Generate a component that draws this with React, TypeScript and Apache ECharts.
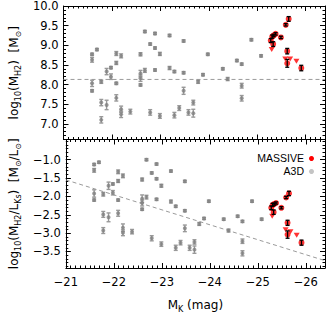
import React, { useEffect, useRef } from "react";
import * as echarts from "echarts";

// ---- axis ranges & ticks ----
const X_MIN = -26.4;
const X_MAX = -21;
const TOP_MIN = 6.6;
const TOP_MAX = 10.0;
const BOT_MIN = -3.95;
const BOT_MAX = -0.45;
const xTicks = [-21, -22, -23, -24, -25, -26];
const topYTicks = [7.0, 7.5, 8.0, 8.5, 9.0, 9.5, 10.0];
const botYTicks = [-1.0, -1.5, -2.0, -2.5, -3.0, -3.5];

// reference lines
const topRefLevel = 8.13;
const botRefLine = [
  [-21, -1.55],
  [-26.4, -3.75],
];

// ---- data: [M_K, value, error] ----
const a3dTop = [
  [-21.59, 8.77, 0.03], [-21.59, 8.63, 0.06], [-21.69, 8.89, 0.03], [-21.59, 8.03, 0.08],
  [-21.59, 7.84, 0.03], [-21.78, 8.07, 0.04], [-21.78, 7.54, 0.08], [-21.78, 7.1, 0.08],
  [-21.89, 8.33, 0.08], [-21.89, 7.48, 0.12], [-21.98, 8.43, 0.03], [-21.98, 8.2, 0.07],
  [-22.09, 8.79, 0.05], [-22.09, 8.55, 0.04], [-22.09, 8.03, 0.03], [-22.09, 7.66, 0.08],
  [-22.19, 8.73, 0.05], [-22.19, 7.37, 0.08], [-22.19, 7.24, 0.08], [-22.38, 7.31, 0.06],
  [-22.59, 8.77, 0.04], [-22.59, 8.28, 0.08], [-22.59, 8.16, 0.08], [-22.59, 7.99, 0.03],
  [-22.68, 9.35, 0.03], [-22.68, 8.36, 0.05], [-22.79, 9.03, 0.03], [-22.79, 7.29, 0.07],
  [-22.89, 9.3, 0.03], [-22.89, 8.93, 0.03], [-22.89, 8.37, 0.03], [-22.99, 8.78, 0.04],
  [-22.99, 7.2, 0.06], [-23.19, 9.25, 0.03], [-23.19, 8.42, 0.04], [-23.29, 8.33, 0.03],
  [-23.29, 7.22, 0.07], [-23.48, 9.11, 0.03], [-23.48, 8.3, 0.03], [-23.48, 7.84, 0.09],
  [-23.39, 7.4, 0.06], [-23.58, 7.29, 0.07], [-23.68, 7.54, 0.06], [-23.68, 7.27, 0.1],
  [-23.78, 8.07, 0.04], [-23.88, 8.25, 0.03], [-23.98, 8.77, 0.03], [-24.29, 8.4, 0.03],
  [-24.39, 8.14, 0.04], [-24.58, 8.61, 0.03], [-24.68, 8.52, 0.03], [-24.68, 7.97, 0.06],
  [-24.68, 7.65, 0.07], [-24.88, 9.14, 0.03], [-25.08, 8.73, 0.03],
];

const a3dBottom = [
  [-21.59, -1.13, 0.03], [-21.59, -1.29, 0.05], [-21.69, -1.07, 0.03], [-21.59, -1.92, 0.1],
  [-21.59, -2.1, 0.03], [-21.78, -1.94, 0.05], [-21.78, -2.49, 0.08], [-21.78, -2.93, 0.08],
  [-21.89, -1.71, 0.1], [-21.89, -2.57, 0.12], [-21.98, -1.66, 0.03], [-21.98, -1.9, 0.06],
  [-22.09, -1.33, 0.05], [-22.09, -1.58, 0.04], [-22.09, -2.1, 0.03], [-22.09, -2.46, 0.08],
  [-22.19, -1.44, 0.05], [-22.19, -2.85, 0.1], [-22.19, -2.99, 0.08], [-22.38, -2.96, 0.06],
  [-22.59, -1.54, 0.04], [-22.59, -2.06, 0.1], [-22.59, -2.18, 0.08], [-22.59, -2.35, 0.03],
  [-22.68, -1.0, 0.03], [-22.68, -2.02, 0.05], [-22.79, -1.36, 0.03], [-22.79, -3.14, 0.07],
  [-22.89, -1.12, 0.03], [-22.89, -1.52, 0.03], [-22.89, -2.08, 0.03], [-22.99, -1.71, 0.04],
  [-22.99, -3.3, 0.06], [-23.19, -1.31, 0.03], [-23.19, -2.14, 0.04], [-23.29, -2.27, 0.03],
  [-23.29, -3.4, 0.07], [-23.48, -1.59, 0.03], [-23.48, -2.39, 0.03], [-23.48, -2.87, 0.09],
  [-23.39, -3.26, 0.06], [-23.58, -3.4, 0.07], [-23.68, -3.24, 0.06], [-23.68, -3.45, 0.1],
  [-23.78, -2.75, 0.04], [-23.88, -2.6, 0.03], [-23.98, -2.13, 0.03], [-24.29, -2.62, 0.03],
  [-24.39, -2.93, 0.04], [-24.58, -2.54, 0.03], [-24.68, -2.68, 0.03], [-24.68, -3.22, 0.06],
  [-24.68, -3.55, 0.07], [-24.88, -2.13, 0.03], [-25.08, -2.62, 0.03],
];

const massiveTop = [
  [-25.28, 9.12, 0.05], [-25.31, 9.22, 0.04], [-25.34, 9.25, 0.03], [-25.33, 9.03, 0.06],
  [-25.38, 9.29, 0.03], [-25.49, 9.2, 0.03], [-25.59, 9.52, 0.03], [-25.65, 9.67, 0.06],
  [-25.62, 8.85, 0.07], [-25.62, 8.54, 0.1], [-25.91, 8.42, 0.07],
];
const massiveTopLimits = [
  [-25.3, 8.89], [-25.58, 8.65], [-25.68, 8.65], [-25.81, 8.59],
];

const massiveBottom = [
  [-25.28, -2.31, 0.05], [-25.31, -2.23, 0.04], [-25.34, -2.21, 0.03], [-25.33, -2.43, 0.06],
  [-25.38, -2.18, 0.03], [-25.49, -2.31, 0.03], [-25.59, -2.03, 0.03], [-25.65, -1.92, 0.06],
  [-25.62, -2.72, 0.07], [-25.62, -3.04, 0.1], [-25.91, -3.26, 0.07],
];
const massiveBottomLimits = [
  [-25.3, -2.54], [-25.58, -2.91], [-25.68, -2.96], [-25.81, -3.06],
];

const legendItems = [
  { name: "MASSIVE", color: "#ff0000" },
  { name: "A3D", color: "#c4c4c4" },
];

// ---- helpers ----
const FONT = "DejaVu Sans";
const MINUS = "\u2212";

function steps(a: number, b: number, s: number) {
  const out: number[] = [];
  const n = Math.round((b - a) / s);
  for (let i = 0; i <= n; i++) out.push(+(a + i * s).toFixed(4));
  return out;
}

const fmtX = (v: number) => (v < 0 ? MINUS : "") + Math.abs(v).toFixed(0);
const fmtY = (v: number) => (v < 0 ? MINUS : "") + Math.abs(v).toFixed(1);

function errRender(color: string, lw: number) {
  return (params: any, api: any) => {
    const x = api.value(0);
    const y = api.value(1);
    const e = api.value(2);
    const p1 = api.coord([x, y - e]);
    const p2 = api.coord([x, y + e]);
    const w = 2;
    const st = { stroke: color, lineWidth: lw };
    return {
      type: "group",
      children: [
        { type: "line", shape: { x1: p1[0], y1: p1[1], x2: p2[0], y2: p2[1] }, style: st },
        { type: "line", shape: { x1: p1[0] - w, y1: p1[1], x2: p1[0] + w, y2: p1[1] }, style: st },
        { type: "line", shape: { x1: p2[0] - w, y1: p2[1], x2: p2[0] + w, y2: p2[1] }, style: st },
      ],
    };
  };
}

const richSub = {
  n: { fontSize: 12, fontFamily: FONT, lineHeight: 16, color: "#000" },
  s: { fontSize: 8, fontFamily: FONT, lineHeight: 8, verticalAlign: "bottom", color: "#000" },
};

export default function App() {
  const ref = useRef<HTMLDivElement>(null);

  useEffect(() => {
    if (!ref.current) return;
    const chart = echarts.init(ref.current, undefined, { renderer: "svg" });

    const grids = [
      { left: 51, right: 4, top: 1.5, height: 138 },
      { left: 51, right: 4, top: 139.5, height: 140 },
    ];

    const xMinor = steps(X_MIN, X_MAX, 0.1);
    const yMinorTop = steps(TOP_MIN, TOP_MAX, 0.1);
    const yMinorBot = steps(-3.9, -0.5, 0.1);

    const xAxes: any[] = [];
    const yAxes: any[] = [];

    const baseAxis = {
      type: "value",
      splitLine: { show: false },
      axisLine: { show: false, lineStyle: { color: "#000", width: 1 } },
      axisLabel: { show: false },
    };

    [0, 1].forEach((g) => {
      const yMin = g === 0 ? TOP_MIN : BOT_MIN;
      const yMax = g === 0 ? TOP_MAX : BOT_MAX;
      const yMaj = g === 0 ? topYTicks : botYTicks;
      const yMin2 = g === 0 ? yMinorTop : yMinorBot;
      ["bottom", "top"].forEach((pos) => {
        const showLabel = pos === "bottom" && g === 1;
        xAxes.push({
          ...baseAxis,
          gridIndex: g,
          position: pos,
          min: X_MIN,
          max: X_MAX,
          inverse: true,
          axisLine: { show: true, onZero: false, lineStyle: { color: "#000", width: 1 } },
          axisTick: { show: true, inside: true, length: 5, customValues: xTicks, lineStyle: { color: "#000" } },
          axisLabel: showLabel
            ? {
                show: true,
                customValues: xTicks,
                formatter: fmtX,
                fontFamily: FONT,
                fontSize: 11.5,
                color: "#000",
                margin: 8,
              }
            : { show: false },
          name: showLabel ? "{n|M}{s|K}{n| (mag)}" : "",
          nameLocation: "middle",
          nameGap: 29,
          nameTextStyle: { rich: richSub },
        });
        xAxes.push({
          ...baseAxis,
          gridIndex: g,
          position: pos,
          min: X_MIN,
          max: X_MAX,
          inverse: true,
          axisLine: { show: false, onZero: false },
          axisTick: { show: true, inside: true, length: 2.5, customValues: xMinor, lineStyle: { color: "#000" } },
        });
      });
      ["left", "right"].forEach((pos) => {
        const showLabel = pos === "left";
        const nm =
          g === 0
            ? "{n|log}{s|10}{n|(M}{s|H2}{n|)  [M}{s|⊙}{n|]}"
            : "{n|log}{s|10}{n|(M}{s|H2}{n|/L}{s|Ks}{n|)  [M}{s|⊙}{n|/L}{s|⊙}{n|]}";
        yAxes.push({
          ...baseAxis,
          gridIndex: g,
          position: pos,
          min: yMin,
          max: yMax,
          axisLine: { show: true, onZero: false, lineStyle: { color: "#000", width: 1 } },
          axisTick: { show: true, inside: true, length: 5, customValues: yMaj, lineStyle: { color: "#000" } },
          axisLabel: showLabel
            ? {
                show: true,
                customValues: yMaj,
                formatter: fmtY,
                fontFamily: FONT,
                fontSize: 11.5,
                color: "#000",
                margin: 5,
              }
            : { show: false },
          name: showLabel ? nm : "",
          nameLocation: "middle",
          nameGap: 40,
          nameTextStyle: { rich: richSub },
        });
        yAxes.push({
          ...baseAxis,
          gridIndex: g,
          position: pos,
          min: yMin,
          max: yMax,
          axisLine: { show: false, onZero: false },
          axisTick: { show: true, inside: true, length: 2.5, customValues: yMin2, lineStyle: { color: "#000" } },
        });
      });
    });

    const series: any[] = [];
    const panels = [
      { g: 0, a3d: a3dTop, mas: massiveTop, lim: massiveTopLimits },
      { g: 1, a3d: a3dBottom, mas: massiveBottom, lim: massiveBottomLimits },
    ];
    panels.forEach(({ g, a3d, mas, lim }) => {
      const xi = g * 4;
      const yi = g * 4;
      series.push({
        type: "line",
        xAxisIndex: xi,
        yAxisIndex: yi,
        data:
          g === 0
            ? [
                [X_MAX, topRefLevel],
                [X_MIN, topRefLevel],
              ]
            : botRefLine,
        symbol: "none",
        silent: true,
        lineStyle: { color: "#9a9a9a", width: 1, type: [4, 3] },
        z: 1,
      });
      series.push({
        type: "custom",
        xAxisIndex: xi,
        yAxisIndex: yi,
        data: a3d,
        encode: { x: 0, y: 1 },
        renderItem: errRender("#999999", 1.4),
        silent: true,
        z: 2,
      });
      series.push({
        type: "scatter",
        name: "A3D",
        xAxisIndex: xi,
        yAxisIndex: yi,
        data: a3d.map((d) => [d[0], d[1]]),
        symbol: "circle",
        symbolSize: 4,
        itemStyle: { color: "#808080" },
        silent: true,
        z: 3,
      });
      series.push({
        type: "scatter",
        name: "MASSIVE limits",
        xAxisIndex: xi,
        yAxisIndex: yi,
        data: lim,
        symbol: "triangle",
        symbolRotate: 180,
        symbolSize: [6, 5],
        itemStyle: { color: "#ff0000" },
        silent: true,
        z: 4,
      });
      series.push({
        type: "scatter",
        name: "MASSIVE",
        xAxisIndex: xi,
        yAxisIndex: yi,
        data: mas.map((d) => [d[0], d[1]]),
        symbol: "circle",
        symbolSize: 6,
        itemStyle: { color: "#ff0000" },
        silent: true,
        z: 5,
      });
      series.push({
        type: "custom",
        xAxisIndex: xi,
        yAxisIndex: yi,
        data: mas,
        encode: { x: 0, y: 1 },
        renderItem: errRender("#000000", 1.3),
        silent: true,
        z: 6,
      });
    });

    const graphic: any[] = [];
    legendItems.forEach((it, i) => {
      const cy = 158 + i * 13;
      graphic.push({
        type: "text",
        x: 304,
        y: cy,
        style: {
          text: it.name,
          fontFamily: "'Liberation Sans Narrow', 'Liberation Sans', sans-serif",
          fontSize: 10.5,
          fill: "#000",
          align: "right",
          verticalAlign: "middle",
        },
      });
      graphic.push({
        type: "circle",
        shape: { cx: 311.5, cy: cy + 0.5, r: 2.5 },
        style: { fill: it.color },
      });
    });

    chart.setOption({
      animation: false,
      backgroundColor: "#fff",
      grid: grids,
      xAxis: xAxes,
      yAxis: yAxes,
      series,
      graphic,
    });

    return () => chart.dispose();
  }, []);

  return (
    <div
      ref={ref}
      style={{ position: "fixed", left: 0, top: 0, width: 329, height: 314, background: "#fff" }}
    />
  );
}
